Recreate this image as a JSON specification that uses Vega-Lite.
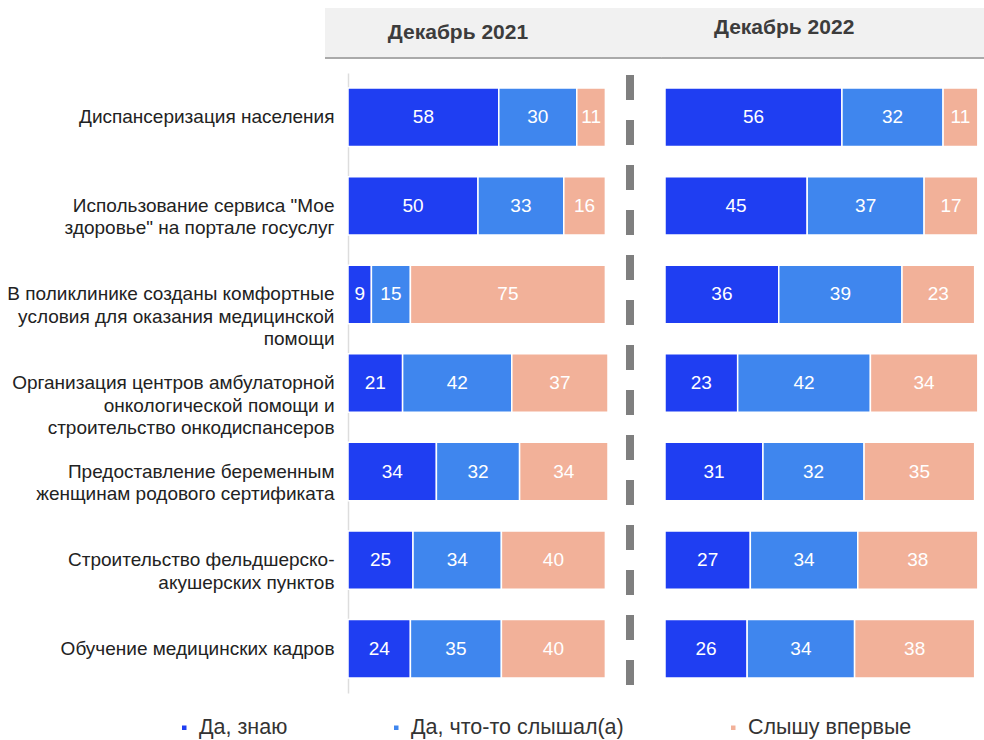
{
  "$schema": "https://vega.github.io/schema/vega-lite/v6.json",
  "padding": {"left": 5, "top": 8, "right": 0, "bottom": 0},
  "background": "white",
  "config": {"view": {"stroke": null}, "font": "Liberation Sans"},
  "spacing": -7,
  "data": {"values": [
    {"p": "2021", "item": "Диспансеризация населения", "resp": "Да, знаю", "v": 58},
    {"p": "2021", "item": "Диспансеризация населения", "resp": "Да, что-то слышал(а)", "v": 30},
    {"p": "2021", "item": "Диспансеризация населения", "resp": "Слышу впервые", "v": 11},
    {"p": "2021", "item": "Использование сервиса \"Мое|здоровье\" на портале госуслуг", "resp": "Да, знаю", "v": 50},
    {"p": "2021", "item": "Использование сервиса \"Мое|здоровье\" на портале госуслуг", "resp": "Да, что-то слышал(а)", "v": 33},
    {"p": "2021", "item": "Использование сервиса \"Мое|здоровье\" на портале госуслуг", "resp": "Слышу впервые", "v": 16},
    {"p": "2021", "item": "В поликлинике созданы комфортные|условия для оказания медицинской|помощи", "resp": "Да, знаю", "v": 9},
    {"p": "2021", "item": "В поликлинике созданы комфортные|условия для оказания медицинской|помощи", "resp": "Да, что-то слышал(а)", "v": 15},
    {"p": "2021", "item": "В поликлинике созданы комфортные|условия для оказания медицинской|помощи", "resp": "Слышу впервые", "v": 75},
    {"p": "2021", "item": "Организация центров амбулаторной|онкологической помощи и|строительство онкодиспансеров", "resp": "Да, знаю", "v": 21},
    {"p": "2021", "item": "Организация центров амбулаторной|онкологической помощи и|строительство онкодиспансеров", "resp": "Да, что-то слышал(а)", "v": 42},
    {"p": "2021", "item": "Организация центров амбулаторной|онкологической помощи и|строительство онкодиспансеров", "resp": "Слышу впервые", "v": 37},
    {"p": "2021", "item": "Предоставление беременным|женщинам родового сертификата", "resp": "Да, знаю", "v": 34},
    {"p": "2021", "item": "Предоставление беременным|женщинам родового сертификата", "resp": "Да, что-то слышал(а)", "v": 32},
    {"p": "2021", "item": "Предоставление беременным|женщинам родового сертификата", "resp": "Слышу впервые", "v": 34},
    {"p": "2021", "item": "Строительство фельдшерско-|акушерских пунктов", "resp": "Да, знаю", "v": 25},
    {"p": "2021", "item": "Строительство фельдшерско-|акушерских пунктов", "resp": "Да, что-то слышал(а)", "v": 34},
    {"p": "2021", "item": "Строительство фельдшерско-|акушерских пунктов", "resp": "Слышу впервые", "v": 40},
    {"p": "2021", "item": "Обучение медицинских кадров", "resp": "Да, знаю", "v": 24},
    {"p": "2021", "item": "Обучение медицинских кадров", "resp": "Да, что-то слышал(а)", "v": 35},
    {"p": "2021", "item": "Обучение медицинских кадров", "resp": "Слышу впервые", "v": 40},
    {"p": "2022", "item": "Диспансеризация населения", "resp": "Да, знаю", "v": 56},
    {"p": "2022", "item": "Диспансеризация населения", "resp": "Да, что-то слышал(а)", "v": 32},
    {"p": "2022", "item": "Диспансеризация населения", "resp": "Слышу впервые", "v": 11},
    {"p": "2022", "item": "Использование сервиса \"Мое|здоровье\" на портале госуслуг", "resp": "Да, знаю", "v": 45},
    {"p": "2022", "item": "Использование сервиса \"Мое|здоровье\" на портале госуслуг", "resp": "Да, что-то слышал(а)", "v": 37},
    {"p": "2022", "item": "Использование сервиса \"Мое|здоровье\" на портале госуслуг", "resp": "Слышу впервые", "v": 17},
    {"p": "2022", "item": "В поликлинике созданы комфортные|условия для оказания медицинской|помощи", "resp": "Да, знаю", "v": 36},
    {"p": "2022", "item": "В поликлинике созданы комфортные|условия для оказания медицинской|помощи", "resp": "Да, что-то слышал(а)", "v": 39},
    {"p": "2022", "item": "В поликлинике созданы комфортные|условия для оказания медицинской|помощи", "resp": "Слышу впервые", "v": 23},
    {"p": "2022", "item": "Организация центров амбулаторной|онкологической помощи и|строительство онкодиспансеров", "resp": "Да, знаю", "v": 23},
    {"p": "2022", "item": "Организация центров амбулаторной|онкологической помощи и|строительство онкодиспансеров", "resp": "Да, что-то слышал(а)", "v": 42},
    {"p": "2022", "item": "Организация центров амбулаторной|онкологической помощи и|строительство онкодиспансеров", "resp": "Слышу впервые", "v": 34},
    {"p": "2022", "item": "Предоставление беременным|женщинам родового сертификата", "resp": "Да, знаю", "v": 31},
    {"p": "2022", "item": "Предоставление беременным|женщинам родового сертификата", "resp": "Да, что-то слышал(а)", "v": 32},
    {"p": "2022", "item": "Предоставление беременным|женщинам родового сертификата", "resp": "Слышу впервые", "v": 35},
    {"p": "2022", "item": "Строительство фельдшерско-|акушерских пунктов", "resp": "Да, знаю", "v": 27},
    {"p": "2022", "item": "Строительство фельдшерско-|акушерских пунктов", "resp": "Да, что-то слышал(а)", "v": 34},
    {"p": "2022", "item": "Строительство фельдшерско-|акушерских пунктов", "resp": "Слышу впервые", "v": 38},
    {"p": "2022", "item": "Обучение медицинских кадров", "resp": "Да, знаю", "v": 26},
    {"p": "2022", "item": "Обучение медицинских кадров", "resp": "Да, что-то слышал(а)", "v": 34},
    {"p": "2022", "item": "Обучение медицинских кадров", "resp": "Слышу впервые", "v": 38}
  ]},
  "resolve": {"legend": {"color": "shared"}},
  "hconcat": [
    {
      "width": 260,
      "height": 620,
      "resolve": {"scale": {"y": "independent"}},
      "layer": [
        {
          "transform": [{"filter": "datum.p == '2021'"}],
          "layer": [
            {
              "mark": {"type": "bar", "stroke": "white", "strokeWidth": 1.5},
              "encoding": {
                "y": {"field": "item", "type": "nominal", "sort": null,
                  "scale": {"paddingInner": 0.34, "paddingOuter": 0.17},
                  "axis": {"title": null, "labelExpr": "split(datum.label, '|')", "labelFontSize": 19, "labelColor": "#222222",
                    "labelLineHeight": 22.5, "ticks": false, "labelPadding": 14, "domainColor": "#dddddd", "domainWidth": 1.5,
                    "labelLimit": 345, "minExtent": 343, "maxExtent": 343, "labelFont": "Liberation Sans"}},
                "x": {"field": "v", "type": "quantitative", "stack": "zero", "scale": {"domain": [0, 100], "nice": false}, "axis": null},
                "order": {"field": "resp", "sort": "ascending"},
                "color": {"field": "resp", "type": "nominal",
                  "scale": {"domain": ["Да, знаю", "Да, что-то слышал(а)", "Слышу впервые"], "range": ["#1f3ef2", "#3f86ee", "#f2b199"]},
                  "legend": {"orient": "none", "legendX": -174.5, "legendY": 643.5, "direction": "horizontal", "title": null, "padding": 0,
                    "symbolType": "square", "symbolSize": 36, "labelFontSize": 21.5, "labelColor": "#333333", "columnPadding": 98,
                    "labelOffset": 4, "labelLimit": 400, "labelFont": "Liberation Sans"}}
              }
            },
            {
              "mark": {"type": "text", "color": "white", "fontSize": 19, "font": "Liberation Sans"},
              "encoding": {
                "y": {"field": "item", "type": "nominal", "sort": null},
                "x": {"field": "v", "type": "quantitative", "stack": "zero", "bandPosition": 0.5, "scale": {"domain": [0, 100], "nice": false}},
                "order": {"field": "resp", "sort": "ascending"},
                "detail": {"field": "resp"},
                "text": {"field": "v"}
              }
            }
          ]
        },
        {
          "data": {"values": [{}]},
          "layer": [
            {
              "mark": {"type": "rect", "color": "#f1f1f1"},
              "encoding": {
                "x": {"datum": -8.85, "type": "quantitative", "scale": {"domain": [0, 100], "nice": false}},
                "x2": {"datum": 121.5},
                "y": {"datum": 1.1048, "type": "quantitative", "scale": {"domain": [0, 1], "nice": false, "zero": false}, "axis": null},
                "y2": {"datum": 1.0242}
              }
            },
            {
              "mark": {"type": "rule", "color": "#aaaaaa", "strokeWidth": 2},
              "encoding": {
                "x": {"datum": -8.85, "type": "quantitative", "scale": {"domain": [0, 100], "nice": false}},
                "x2": {"datum": 121.5},
                "y": {"datum": 1.0242, "type": "quantitative", "scale": {"domain": [0, 1], "nice": false, "zero": false}, "axis": null}
              }
            },
            {
              "mark": {"type": "text", "fontSize": 21, "fontWeight": "bold", "color": "#3c3c3c", "font": "Liberation Sans"},
              "encoding": {
                "x": {"datum": 42.3, "type": "quantitative", "scale": {"domain": [0, 100], "nice": false}},
                "y": {"datum": 1.0645, "type": "quantitative", "scale": {"domain": [0, 1], "nice": false, "zero": false}, "axis": null},
                "text": {"value": "Декабрь 2021"}
              }
            },
            {
              "mark": {"type": "rule", "color": "#7f7f7f", "strokeWidth": 8, "strokeDash": [25, 20]},
              "encoding": {
                "x": {"datum": 108.46, "type": "quantitative", "scale": {"domain": [0, 100], "nice": false}},
                "y": {"datum": 0.9968, "type": "quantitative", "scale": {"domain": [0, 1], "nice": false, "zero": false}, "axis": null},
                "y2": {"datum": -0.0113}
              }
            }
          ]
        }
      ]
    },
    {
      "width": 316,
      "height": 620,
      "resolve": {"scale": {"y": "independent"}},
      "layer": [
        {
          "transform": [{"filter": "datum.p == '2022'"}],
          "layer": [
            {
              "mark": {"type": "bar", "stroke": "white", "strokeWidth": 1.5},
              "encoding": {
                "y": {"field": "item", "type": "nominal", "sort": null,
                  "scale": {"paddingInner": 0.34, "paddingOuter": 0.17}, "axis": null},
                "x": {"field": "v", "type": "quantitative", "stack": "zero", "scale": {"domain": [0, 100], "nice": false}, "axis": null},
                "order": {"field": "resp", "sort": "ascending"},
                "color": {"field": "resp", "type": "nominal",
                  "scale": {"domain": ["Да, знаю", "Да, что-то слышал(а)", "Слышу впервые"], "range": ["#1f3ef2", "#3f86ee", "#f2b199"]}}
              }
            },
            {
              "mark": {"type": "text", "color": "white", "fontSize": 19, "font": "Liberation Sans"},
              "encoding": {
                "y": {"field": "item", "type": "nominal", "sort": null},
                "x": {"field": "v", "type": "quantitative", "stack": "zero", "bandPosition": 0.5, "scale": {"domain": [0, 100], "nice": false}},
                "order": {"field": "resp", "sort": "ascending"},
                "detail": {"field": "resp"},
                "text": {"field": "v"}
              }
            }
          ]
        },
        {
          "data": {"values": [{}]},
          "layer": [
            {
              "mark": {"type": "rect", "color": "#f1f1f1"},
              "encoding": {
                "x": {"datum": -1, "type": "quantitative", "scale": {"domain": [0, 100], "nice": false}},
                "x2": {"datum": 101.3},
                "y": {"datum": 1.1048, "type": "quantitative", "scale": {"domain": [0, 1], "nice": false, "zero": false}, "axis": null},
                "y2": {"datum": 1.0242}
              }
            },
            {
              "mark": {"type": "rule", "color": "#aaaaaa", "strokeWidth": 2},
              "encoding": {
                "x": {"datum": -1, "type": "quantitative", "scale": {"domain": [0, 100], "nice": false}},
                "x2": {"datum": 101.3},
                "y": {"datum": 1.0242, "type": "quantitative", "scale": {"domain": [0, 1], "nice": false, "zero": false}, "axis": null}
              }
            },
            {
              "mark": {"type": "text", "fontSize": 21, "fontWeight": "bold", "color": "#3c3c3c", "font": "Liberation Sans"},
              "encoding": {
                "x": {"datum": 37.7, "type": "quantitative", "scale": {"domain": [0, 100], "nice": false}},
                "y": {"datum": 1.0726, "type": "quantitative", "scale": {"domain": [0, 1], "nice": false, "zero": false}, "axis": null},
                "text": {"value": "Декабрь 2022"}
              }
            }
          ]
        }
      ]
    }
  ]
}
